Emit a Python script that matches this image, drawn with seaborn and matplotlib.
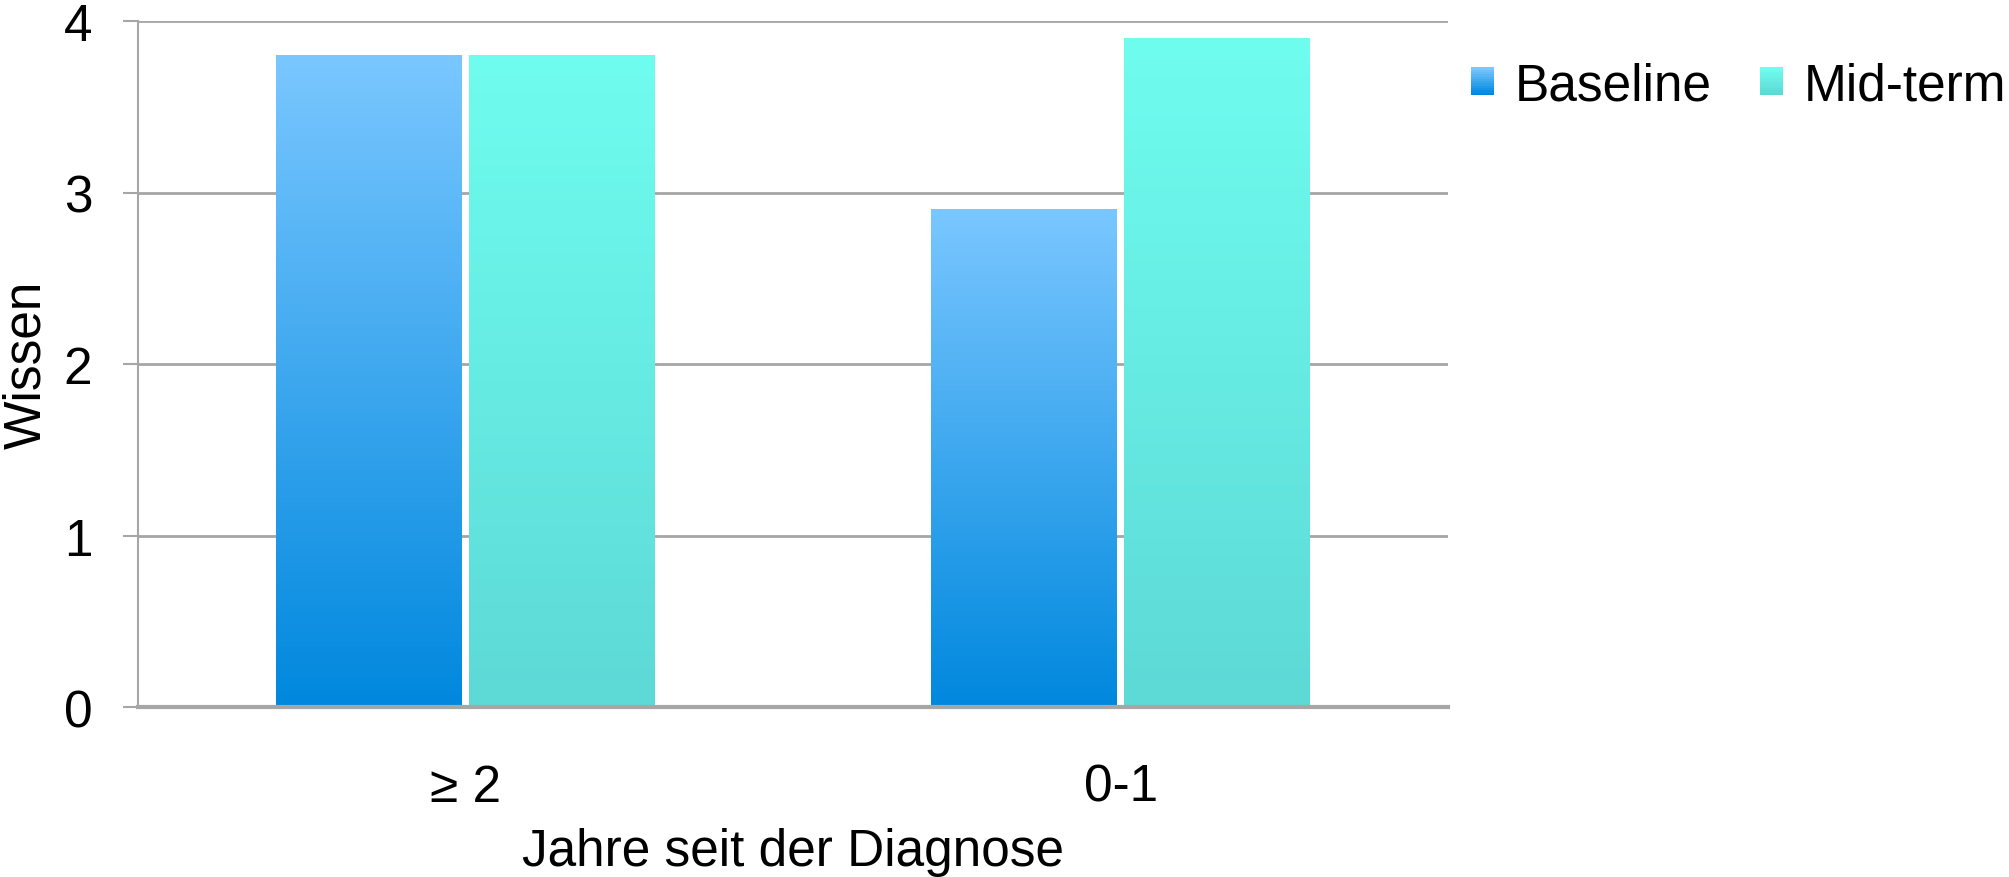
import numpy as np
import pandas as pd
import matplotlib
matplotlib.use("Agg")
import matplotlib.pyplot as plt
import seaborn as sns
from matplotlib.colors import LinearSegmentedColormap, to_rgb
from matplotlib.legend_handler import HandlerBase
from matplotlib.patches import Rectangle

# data
categories = ["≥ 2", "0-1"]
series = ["Baseline", "Mid-term"]
baseline = [3.8, 2.9]
midterm = [3.8, 3.9]

# gradient colours (top, bottom)
grad = {
    "Baseline": ("#7AC7FF", "#0088DE"),
    "Mid-term": ("#6FFDEF", "#5DD9D6"),
}

df = pd.DataFrame({
    "Jahre": categories * 2,
    "Gruppe": [series[0]] * 2 + [series[1]] * 2,
    "Wissen": baseline + midterm,
})

sns.set_style("white")
plt.rcParams["font.family"] = ["Liberation Sans", "DejaVu Sans"]
plt.rcParams["text.color"] = "black"
plt.rcParams["xtick.labelcolor"] = "black"
plt.rcParams["ytick.labelcolor"] = "black"
plt.rcParams["axes.labelcolor"] = "black"

fig = plt.figure(figsize=(20.09, 8.78), dpi=100)
ax = fig.add_axes([0.0687, 0.1936, 0.6521, 0.7813])

sns.barplot(data=df, x="Jahre", y="Wissen", hue="Gruppe", order=categories,
            hue_order=series, palette=[grad[s][1] for s in series],
            width=0.59, gap=0.04, ax=ax, legend=False)

# replace flat bar fill with vertical gradient
bars = [p for p in ax.patches]
for i, p in enumerate(bars):
    s = series[i // len(categories)]
    cmap = LinearSegmentedColormap.from_list(s, [grad[s][1], grad[s][0]])
    x0, y0 = p.get_x(), p.get_y()
    w, h = p.get_width(), p.get_height()
    img = np.linspace(0, 1, 256).reshape(-1, 1)
    ax.imshow(img, cmap=cmap, origin="lower", aspect="auto",
              extent=[x0, x0 + w, y0, y0 + h], zorder=2)
    p.set_facecolor("none")
    p.set_edgecolor("none")

ax.set_xlim(-0.5, 1.5)
ax.set_ylim(0, 4)
ax.set_yticks([0, 1, 2, 3, 4])
ax.set_axisbelow(True)
ax.yaxis.grid(True, color="#A6A6A6", linewidth=2)
ax.xaxis.grid(False)

for side in ["top", "right"]:
    ax.spines[side].set_visible(False)
ax.spines["left"].set_color("#A6A6A6")
ax.spines["left"].set_linewidth(1.5)
ax.spines["bottom"].set_color("#A6A6A6")
ax.spines["bottom"].set_linewidth(3)
ax.spines["bottom"].set_zorder(3)

ax.set_xticks([-0.5, 0.5, 1.5], minor=True)
ax.tick_params(axis="x", which="minor", length=14, width=1.5, color="#A6A6A6", direction="out")
ax.tick_params(axis="x", which="major", length=0, pad=40, labelsize=37)
ax.tick_params(axis="y", length=11, width=1.5, color="#A6A6A6", pad=22, labelsize=37, left=True)

ax.set_xlabel("Jahre seit der Diagnose", fontsize=37)
ax.set_ylabel("Wissen", fontsize=37)
ax.xaxis.set_label_coords(0.5, -0.175)
ax.yaxis.set_label_coords(-0.066, 0.5)


class GradientHandler(HandlerBase):
    def create_artists(self, legend, orig_handle, xdescent, ydescent,
                       width, height, fontsize, trans):
        top, bottom = grad[orig_handle.get_label()]
        c0, c1 = np.array(to_rgb(bottom)), np.array(to_rgb(top))
        n = 12
        arts = []
        for k in range(n):
            c = c0 + (c1 - c0) * k / (n - 1)
            r = Rectangle((-xdescent, -ydescent + height * k / n), width, height / n + 0.3,
                          facecolor=c, edgecolor="none", transform=trans)
            arts.append(r)
        return arts


handles = [Rectangle((0, 0), 1, 1, label=s) for s in series]
fig.legend(handles=handles, labels=series, handler_map={Rectangle: GradientHandler()},
           loc="center left", bbox_to_anchor=(0.732, 1 - 87 / 878), ncol=2,
           frameon=False, fontsize=37, handlelength=0.45, handleheight=0.45,
           handletextpad=0.4, columnspacing=0.95, borderpad=0, borderaxespad=0)

fig.savefig("out.png", dpi=100)
